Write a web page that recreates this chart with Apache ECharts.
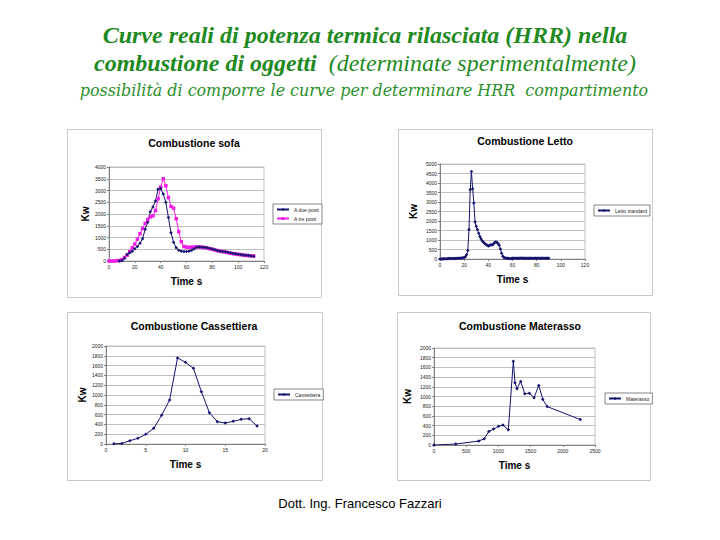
<!DOCTYPE html>
<html><head><meta charset="utf-8">
<script src="https://cdn.jsdelivr.net/npm/echarts/dist/echarts.min.js"></script>
<style>html,body{margin:0;padding:0;background:#fff}#c{width:720px;height:540px}</style>
</head><body><div id="c"></div><script>
// ---- data ----
const sofaDueTime = [8,10,12,14,16,18,20,22,24,26,28,30,32,34,36,38,40,42,44,46,48,50,52,54,56,58,60,62,64,66,68,70,72,74,76,78,80,82,84,86,88,90,92,94,96,98,100,102,104,106,108,110,112];
const sofaDueKw = [0,20,120,280,350,420,520,620,760,950,1350,1650,2100,2300,2550,3050,3080,2850,2500,1850,1200,800,560,460,420,400,400,420,460,520,590,600,590,580,560,540,510,480,450,420,400,390,370,350,330,310,290,280,260,240,230,210,200];
const sofaTreTime = [0,2,4,6,8,10,12,14,16,18,20,22,24,26,28,30,32,34,36,38,40,42,44,46,48,50,52,54,56,58,60,62,64,66,68,70,72,74,76,78,80,82,84,86,88,90,92,94,96,98,100,102,104,106,108,110,112];
const sofaTreKw = [0,0,0,10,20,60,150,250,400,560,720,930,1160,1380,1600,1770,1880,1920,2150,2650,3150,3500,3200,2700,2320,2250,1800,1250,820,620,590,580,590,590,600,600,590,570,550,520,500,470,440,420,400,380,360,330,310,300,280,270,250,240,230,220,210];
const lettoTime = [0,1,2,3,4,5,6,7,8,9,10,11,12,13,14,15,16,17,18,19,20,21,22,23,24,25,26,27,28,29,30,31,32,33,34,35,36,37,38,39,40,41,42,43,44,45,46,47,48,49,50,51,52,53,54,55,56,57,58,59,60,61,62,63,64,65,66,67,68,69,70,71,72,73,74,75,76,77,78,79,80,81,82,83,84,85,86,87,88,89,90];
const lettoKw = [0,5,5,10,10,15,15,20,20,25,25,30,30,30,35,35,40,45,50,60,80,120,220,450,1550,3650,4600,3700,2950,1950,1720,1550,1350,1180,1050,950,880,820,760,720,690,710,750,740,780,850,890,880,820,720,520,300,150,80,50,40,35,30,30,30,35,40,40,45,40,40,45,50,45,40,40,45,40,40,45,40,40,40,45,40,40,40,45,40,40,40,40,45,40,40,40];
const cassTime = [1,2,3,4,5,6,7,8,9,10,11,12,13,14,15,16,17,18,19];
const cassKw = [5,10,68,115,197,320,585,898,1755,1667,1544,1068,640,456,428,462,503,517,367];
const matTime = [0,338,696,780,852,925,1003,1071,1154,1232,1258,1289,1346,1409,1481,1554,1627,1689,1757,2271];
const matKw = [0,20,82,130,280,328,389,410,314,1727,1283,1160,1310,1058,1065,976,1229,942,792,526];

const navy = '#14146e', magenta = '#ee1ee6';
const pairs = (t, v) => t.map((x, i) => [x, v[i]]);

const grids = [
  {left:109, top:167, width:155, height:94},
  {left:440, top:164, width:145, height:95},
  {left:106, top:346, width:159, height:98},
  {left:434, top:348, width:161, height:97}
].map(g => Object.assign(g, {show:true, borderColor:'#bfbfbf', borderWidth:1, backgroundColor:'#fff'}));

const plain = v => String(v);
function xAx(gi, max, interval) {
  return {type:'value', gridIndex:gi, min:0, max:max, interval:interval,
    name:'Time s', nameLocation:'middle', nameGap:15,
    nameTextStyle:{fontFamily:'Liberation Sans', fontWeight:'bold', fontSize:10, color:'#000'},
    axisLine:{show:true, lineStyle:{color:'#808080', width:1}},
    axisTick:{show:true, length:2, lineStyle:{color:'#808080'}},
    axisLabel:{fontSize:5, color:'#222', margin:3, fontFamily:'Liberation Sans', formatter:plain},
    splitLine:{show:false}};
}
function yAx(gi, max, interval, gap) {
  return {type:'value', gridIndex:gi, min:0, max:max, interval:interval,
    name:'Kw', nameLocation:'middle', nameGap:gap, nameRotate:90,
    nameTextStyle:{fontFamily:'Liberation Sans', fontWeight:'bold', fontSize:10, color:'#000'},
    axisLine:{show:true, lineStyle:{color:'#808080', width:1}},
    axisTick:{show:true, length:2, lineStyle:{color:'#808080'}},
    axisLabel:{fontSize:5, color:'#222', margin:3, fontFamily:'Liberation Sans', formatter:plain},
    splitLine:{show:true, lineStyle:{color:'#bfbfbf', width:1}}};
}
function ser(name, gi, data, color, symbol) {
  return {type:'line', name:name, xAxisIndex:gi, yAxisIndex:gi, data:data,
    symbol:symbol, symbolSize:3.5, showSymbol:true,
    lineStyle:{color:color, width:1}, itemStyle:{color:color}, animation:false};
}
function leg(data, left, top) {
  return {data:data, left:left, top:top, orient:'vertical', itemWidth:12, itemHeight:4, itemGap:4,
    padding:[3,3], borderColor:'#333', borderWidth:0.6, backgroundColor:'#fff',
    textStyle:{fontSize:5, color:'#222', fontFamily:'Liberation Sans'}, selectedMode:false};
}
const tStyle = {fontFamily:'Liberation Sans', fontWeight:'bold', fontSize:10.5, color:'#000'};
const green = '#1f8a1f';

const chart = echarts.init(document.getElementById('c'), null, {renderer:'svg'});
chart.setOption({
  backgroundColor:'#fff',
  animation:false,
  graphic:[
    {type:'rect', shape:{x:67.5, y:129.5, width:254, height:168}, style:{fill:'#fff', stroke:'#c8c8c8', lineWidth:1}, z:-10},
    {type:'rect', shape:{x:398.5, y:129.5, width:254, height:166}, style:{fill:'#fff', stroke:'#c8c8c8', lineWidth:1}, z:-10},
    {type:'rect', shape:{x:67.5, y:312.5, width:255, height:168}, style:{fill:'#fff', stroke:'#c8c8c8', lineWidth:1}, z:-10},
    {type:'rect', shape:{x:397.5, y:312.5, width:253, height:168}, style:{fill:'#fff', stroke:'#c8c8c8', lineWidth:1}, z:-10},
    {type:'text', x:365, y:35, style:{text:'Curve reali di potenza termica rilasciata (HRR) nella', fontFamily:'Liberation Serif', fontStyle:'italic', fontWeight:'bold', fontSize:24, fill:green, textAlign:'center', textVerticalAlign:'middle'}},
    {type:'text', x:365, y:63, style:{text:'{b|combustione di oggetti}{n|  (determinate sperimentalmente)}', textAlign:'center', textVerticalAlign:'middle',
      rich:{b:{fontFamily:'Liberation Serif', fontStyle:'italic', fontWeight:'bold', fontSize:24, fill:green},
            n:{fontFamily:'Liberation Serif', fontStyle:'italic', fontWeight:'normal', fontSize:24, fill:green}}}},
    {type:'text', x:364, y:90, style:{text:'possibilità di comporre le curve per determinare HRR  compartimento', fontFamily:'DejaVu Serif', fontStyle:'italic', fontWeight:'lighter', fontSize:15.9, fill:'#2a8f2a', textAlign:'center', textVerticalAlign:'middle'}},
    {type:'text', x:360, y:503, style:{text:'Dott. Ing. Francesco Fazzari', fontFamily:'Liberation Sans', fontSize:13, fill:'#000', textAlign:'center', textVerticalAlign:'middle'}}
  ],
  title:[
    {text:'Combustione sofa', left:194, top:137, textAlign:'center', textStyle:tStyle, padding:0},
    {text:'Combustione Letto', left:525, top:135, textAlign:'center', textStyle:tStyle, padding:0},
    {text:'Combustione Cassettiera', left:194, top:320, textAlign:'center', textStyle:tStyle, padding:0},
    {text:'Combustione Materasso', left:520, top:320, textAlign:'center', textStyle:tStyle, padding:0}
  ],
  legend:[
    leg(['A due posti','A tre posti'], 273, 204),
    leg(['Letto standard'], 594, 205),
    leg(['Cassettiera'], 274, 389),
    leg(['Materasso'], 605, 393)
  ],
  grid:grids,
  xAxis:[xAx(0,120,20), xAx(1,120,20), xAx(2,20,5), xAx(3,2500,500)],
  yAxis:[yAx(0,4000,500,19), yAx(1,5000,500,22), yAx(2,2000,200,18), yAx(3,2000,200,22)],
  series:[
    ser('A tre posti', 0, pairs(sofaTreTime, sofaTreKw), magenta, 'rect'),
    ser('A due posti', 0, pairs(sofaDueTime, sofaDueKw), navy, 'diamond'),
    ser('Letto standard', 1, pairs(lettoTime, lettoKw), navy, 'diamond'),
    ser('Cassettiera', 2, pairs(cassTime, cassKw), navy, 'diamond'),
    ser('Materasso', 3, pairs(matTime, matKw), navy, 'diamond')
  ]
});
</script></body></html>
